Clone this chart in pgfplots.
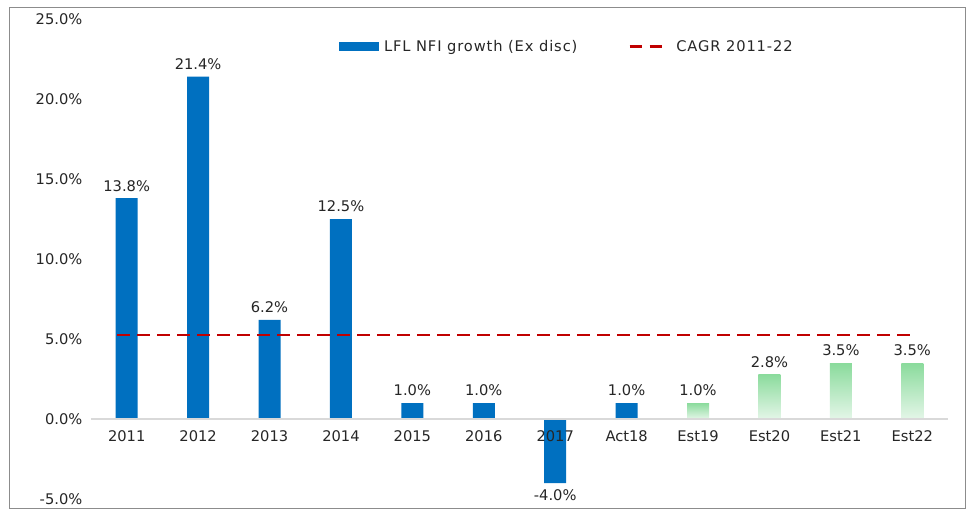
\documentclass[border=0pt]{standalone}
\usepackage{pgfplots}
\pgfplotsset{compat=1.18}
\usepackage{fontspec}
\setmainfont{DejaVu Sans}
\definecolor{barblue}{RGB}{0,112,192}
\definecolor{gtop}{RGB}{138,219,156}
\definecolor{gbot}{RGB}{228,246,232}
\definecolor{cagr}{RGB}{192,0,0}
\definecolor{txt}{RGB}{38,38,38}
\pgfplotsset{
    valnodes/.style={
        nodes near coords={\pgfmathprintnumber[fixed,fixed zerofill,precision=1]{\pgfplotspointmeta}\%},
        nodes near coords style={font=\fontsize{11}{13}\selectfont, text=txt, inner sep=5pt}},
    greenbar/.style={ybar, bar width=16.5pt, bar shift=0pt, draw=none,
        top color=gtop, bottom color=gbot, forget plot, valnodes},
}
\begin{document}
\begin{tikzpicture}
\fill[white] (0,0) rectangle (726pt,-384pt);
\draw[black!45, line width=0.75pt] (6.75pt,-5.25pt) rectangle (723.75pt,-381pt);
\begin{axis}[
    at={(68.25pt,-374.25pt)}, anchor=south west,
    scale only axis,
    width=642.75pt, height=360pt,
    xmin=-0.5, xmax=11.5,
    ymin=-5, ymax=25,
    axis x line=middle,
    axis y line=left,
    x axis line style={draw=black!15, line width=1pt, -},
    y axis line style={draw=none},
    major tick length=0pt,
    xtick={0,...,11},
    xticklabels={2011,2012,2013,2014,2015,2016,2017,Act18,Est19,Est20,Est21,Est22},
    ytick={-5,0,5,10,15,20,25},
    yticklabel={\pgfmathprintnumber[fixed,fixed zerofill,precision=1]{\tick}\%},
    /pgf/number format/assume math mode=true,
    tick label style={font=\fontsize{11}{13}\selectfont, text=txt},
    xticklabel style={yshift=-5pt},
    yticklabel style={xshift=-3pt},
    axis on top,
    clip=false,
    legend columns=2,
    legend style={draw=none, fill=none, at={(0.557,0.942)}, anchor=center,
        font=\fontsize{11}{13}\selectfont\addfontfeatures{LetterSpace=6}, text=txt,
        nodes={inner xsep=4pt},
        /tikz/every even column/.append style={column sep=34pt}},
]
\addplot[ybar, bar width=16.5pt, bar shift=0pt, fill=barblue, draw=none, valnodes,
    legend image code/.code={\fill[barblue] (0pt,-3.4pt) rectangle (30pt,3.4pt);}]
    coordinates {(0,13.8) (1,21.4) (2,6.2) (3,12.5) (4,1.0) (5,1.0) (6,-4.0) (7,1.0)};
\addlegendentry{LFL NFI growth (Ex disc)}
\addplot[greenbar] coordinates {(8,1.0)};
\addplot[greenbar] coordinates {(9,2.8)};
\addplot[greenbar] coordinates {(10,3.5)};
\addplot[greenbar] coordinates {(11,3.5)};
\addplot[cagr, line width=2.2pt, dash pattern=on 9.5pt off 5.5pt, no marks,
    legend image code/.code={\draw[cagr, line width=2.2pt, dash pattern=on 9.5pt off 5.5pt] (0pt,0pt) -- (30pt,0pt);}]
    coordinates {(-0.13,5.25) (11,5.25)};
\addlegendentry{CAGR 2011-22}
\end{axis}
\end{tikzpicture}
\end{document}
